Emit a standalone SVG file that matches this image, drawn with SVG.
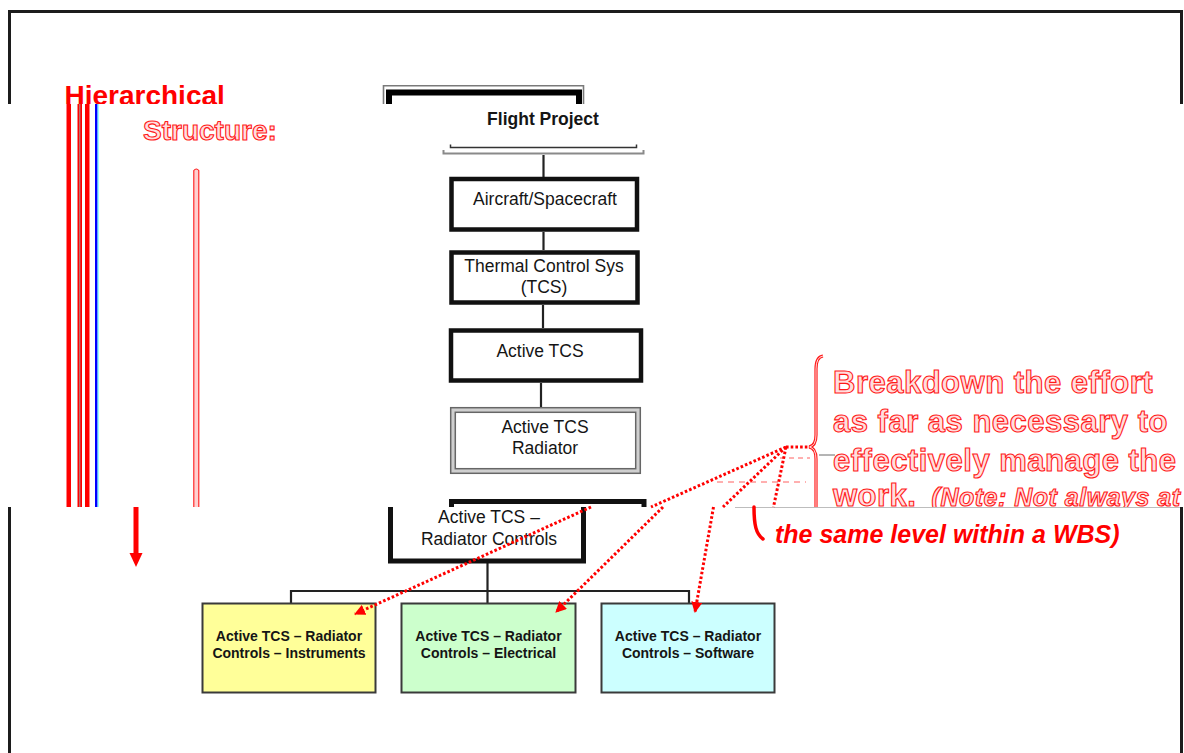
<svg xmlns="http://www.w3.org/2000/svg" width="1184" height="753" viewBox="0 0 1184 753">
  <style>
    .frame{fill:none;stroke:#1c1c1c;stroke-width:3}
    .box{fill:#fff;stroke:#111;stroke-width:4.5}
    .lbl{font-family:"Liberation Sans",Arial,sans-serif;font-size:17.5px;fill:#151515;text-anchor:middle}
    .conn{fill:none;stroke:#222;stroke-width:2.2}
    .leaf{stroke:#3a3a3a;stroke-width:2}
    .leaftxt{font-family:"Liberation Sans",Arial,sans-serif;font-size:14px;font-weight:bold;fill:#151515;text-anchor:middle}
    .dots{fill:none;stroke:#ff0000;stroke-width:3;stroke-dasharray:2.6 2.1}
    .redtxt{font-family:"Liberation Sans",Arial,sans-serif;font-weight:bold;fill:#ff0000}
    .hollow{font-family:"Liberation Sans",Arial,sans-serif;font-weight:bold;fill:#ffdede;stroke:#ff1a1a;stroke-width:1.1}
    .glitch{fill:none;stroke-width:1}
  </style>
  <defs>
    <clipPath id="topBand"><rect x="0" y="0" width="1184" height="104"/></clipPath>
    <clipPath id="midBand"><rect x="0" y="104" width="1184" height="403"/></clipPath>
    <marker id="redHead" markerUnits="userSpaceOnUse" markerWidth="13" markerHeight="11" refX="10" refY="5.5" orient="auto">
      <path d="M0,0 L11,5.5 L0,11 z" fill="#ff0000"/>
    </marker>
  </defs>

  <rect width="1184" height="753" fill="#fff"/>

  <!-- outer frame -->
  <g id="frame">
    <path class="frame" d="M9.5,104 V11.5 H1181.5 V104"/>
    <path class="frame" d="M9.5,507 V753"/>
    <path class="frame" d="M1181.5,507 V753"/>
    <path d="M735,507.5 H1180" stroke="#bdbdbd" stroke-width="1"/>
  </g>

  <!-- title and level arrow -->
  <g id="title">
    <text class="redtxt" x="64.5" y="105" font-size="28" clip-path="url(#topBand)">Hierarchical</text>
    <text class="hollow" x="143" y="140" font-size="28">Structure:</text>
    <rect x="66.5" y="104" width="4.5" height="403" fill="#ff0000"/>
    <rect x="77.5" y="104" width="4.5" height="403" fill="#ff0000"/>
    <rect x="79.3" y="104" width="1" height="403" fill="#a0a0a0"/>
    <rect x="85" y="104" width="4.5" height="403" fill="#ff0000"/>
    <rect x="95" y="104" width="2.6" height="403" fill="#0000ff"/>
    <rect x="97.6" y="104" width="1.2" height="403" fill="#7fffff"/>
    <path d="M193.8,507 V170.5 Q196.3,167.5 198.8,170.5 V507" fill="#ffd0d0" stroke="#ff1a1a" stroke-width="1.1"/>
    <rect x="133.5" y="507" width="5" height="47" fill="#ff0000"/>
    <path d="M129.5,553 L142.5,553 L136,567 z" fill="#ff0000"/>
  </g>

  <!-- tree connectors -->
  <g id="connectors">
    <path class="conn" d="M543.5,155 V177"/>
    <path class="conn" d="M543.5,232 V250"/>
    <path class="conn" d="M543,305 V328"/>
    <path class="conn" d="M541,383 V407"/>
    <path class="conn" d="M487.5,563 V591 M291,603 V591 H689 V603 M487.5,591 V603"/>
  </g>

  <g id="flight-project">
    <path d="M383.5,104 V85.8 H583.5 V104" fill="none" stroke="#7a7a7a" stroke-width="1.6"/>
    <path d="M389,104 V92.5 H579 V104" fill="none" stroke="#000" stroke-width="6"/>
    <text class="lbl" x="543" y="125" font-weight="bold">Flight Project</text>
    <path d="M450.5,144.5 V147.5 H636.5 V144.5" fill="none" stroke="#333" stroke-width="1.5"/>
    <path d="M443.5,150 V153.5 H643.5 V150" fill="none" stroke="#8a8a8a" stroke-width="2"/>
  </g>

  <g id="aircraft-spacecraft">
    <rect class="box" x="451.5" y="179" width="185.5" height="50.5"/>
    <text class="lbl" x="545" y="205">Aircraft/Spacecraft</text>
  </g>

  <g id="thermal-control-sys">
    <rect class="box" x="451.5" y="252.5" width="186" height="50"/>
    <text class="lbl" x="544" y="272">Thermal Control Sys</text>
    <text class="lbl" x="544" y="293">(TCS)</text>
  </g>

  <g id="active-tcs">
    <rect class="box" x="451" y="330.5" width="190" height="50"/>
    <text class="lbl" x="540" y="357">Active TCS</text>
  </g>

  <g id="active-tcs-radiator">
    <rect x="453" y="410" width="185" height="61" fill="#fff" stroke="#cfcfcf" stroke-width="5"/>
    <rect x="450.7" y="407.7" width="189.6" height="65.6" fill="none" stroke="#666" stroke-width="1.5"/>
    <rect x="455.3" y="412.3" width="180.4" height="56.4" fill="none" stroke="#666" stroke-width="1.5"/>
    <text class="lbl" x="545" y="433">Active TCS</text>
    <text class="lbl" x="545" y="454">Radiator</text>
  </g>

  <g id="active-tcs-radiator-controls">
    <path d="M451.5,507 V501.5 H644 V507" fill="none" stroke="#111" stroke-width="5"/>
    <path d="M390.5,507 V561 H583.5 V507" fill="none" stroke="#111" stroke-width="5"/>
    <text class="lbl" x="489" y="523">Active TCS –</text>
    <text class="lbl" x="489" y="545">Radiator Controls</text>
  </g>

  <g id="rc-instruments">
    <rect class="leaf" x="202.5" y="603.5" width="173" height="89" fill="#ffff99"/>
    <text class="leaftxt" x="289" y="641">Active TCS – Radiator</text>
    <text class="leaftxt" x="289" y="658">Controls – Instruments</text>
  </g>

  <g id="rc-electrical">
    <rect class="leaf" x="401.5" y="603.5" width="174" height="89" fill="#ccffcc"/>
    <text class="leaftxt" x="488.5" y="641">Active TCS – Radiator</text>
    <text class="leaftxt" x="488.5" y="658">Controls – Electrical</text>
  </g>

  <g id="rc-software">
    <rect class="leaf" x="601.5" y="603.5" width="173" height="89" fill="#ccffff"/>
    <text class="leaftxt" x="688" y="641">Active TCS – Radiator</text>
    <text class="leaftxt" x="688" y="658">Controls – Software</text>
  </g>

  <!-- note with brace and pointers -->
  <g id="note">
    <path d="M823,356 Q816,357 816,369 V435 Q816,446 809,447 Q816,448 816,459 V507" fill="none" stroke="#ff1a1a" stroke-width="3.2"/>
    <path d="M823,356 Q816,357 816,369 V435 Q816,446 809,447 Q816,448 816,459 V507" fill="none" stroke="#ffe0e0" stroke-width="1"/>
    <path d="M754,507 C754,525 756,534 763,539" fill="none" stroke="#ff0000" stroke-width="3.5" stroke-linecap="round"/>
    <path d="M819,455 H835" stroke="#6a6a6a" stroke-width="1"/>
    <path class="glitch" d="M780,458 H810" stroke="#ff6060" stroke-dasharray="5 4"/>
    <path class="glitch" d="M717,482 H806" stroke="#ff6060" stroke-dasharray="6 5"/>
    <text class="hollow" font-size="31" letter-spacing="0.5" x="833" y="393">Breakdown the effort</text>
    <text class="hollow" font-size="31" letter-spacing="0.5" x="833" y="432">as far as necessary to</text>
    <text class="hollow" font-size="31" letter-spacing="0.5" x="833" y="471">effectively manage the</text>
    <g clip-path="url(#midBand)">
      <text class="hollow" font-size="31" letter-spacing="0.5" x="833" y="506">work. <tspan font-size="25" font-style="italic" dx="6">(Note:  Not always at</tspan></text>
    </g>
    <text class="redtxt" font-size="25" font-style="italic" x="775" y="543">the same level within a WBS)</text>
  </g>

  <g id="pointers">
    <path class="dots" d="M786,447 H810"/>
    <path class="dots" d="M786,447 L651,507"/>
    <path class="dots" d="M786,447 L723,507"/>
    <path class="dots" d="M786,447 L773.5,507"/>
    <path class="dots" d="M591,507 L355,614" marker-end="url(#redHead)"/>
    <path class="dots" d="M663,507 L556,612" marker-end="url(#redHead)"/>
    <path class="dots" d="M713.5,507 L695,612" marker-end="url(#redHead)"/>
  </g>
</svg>
